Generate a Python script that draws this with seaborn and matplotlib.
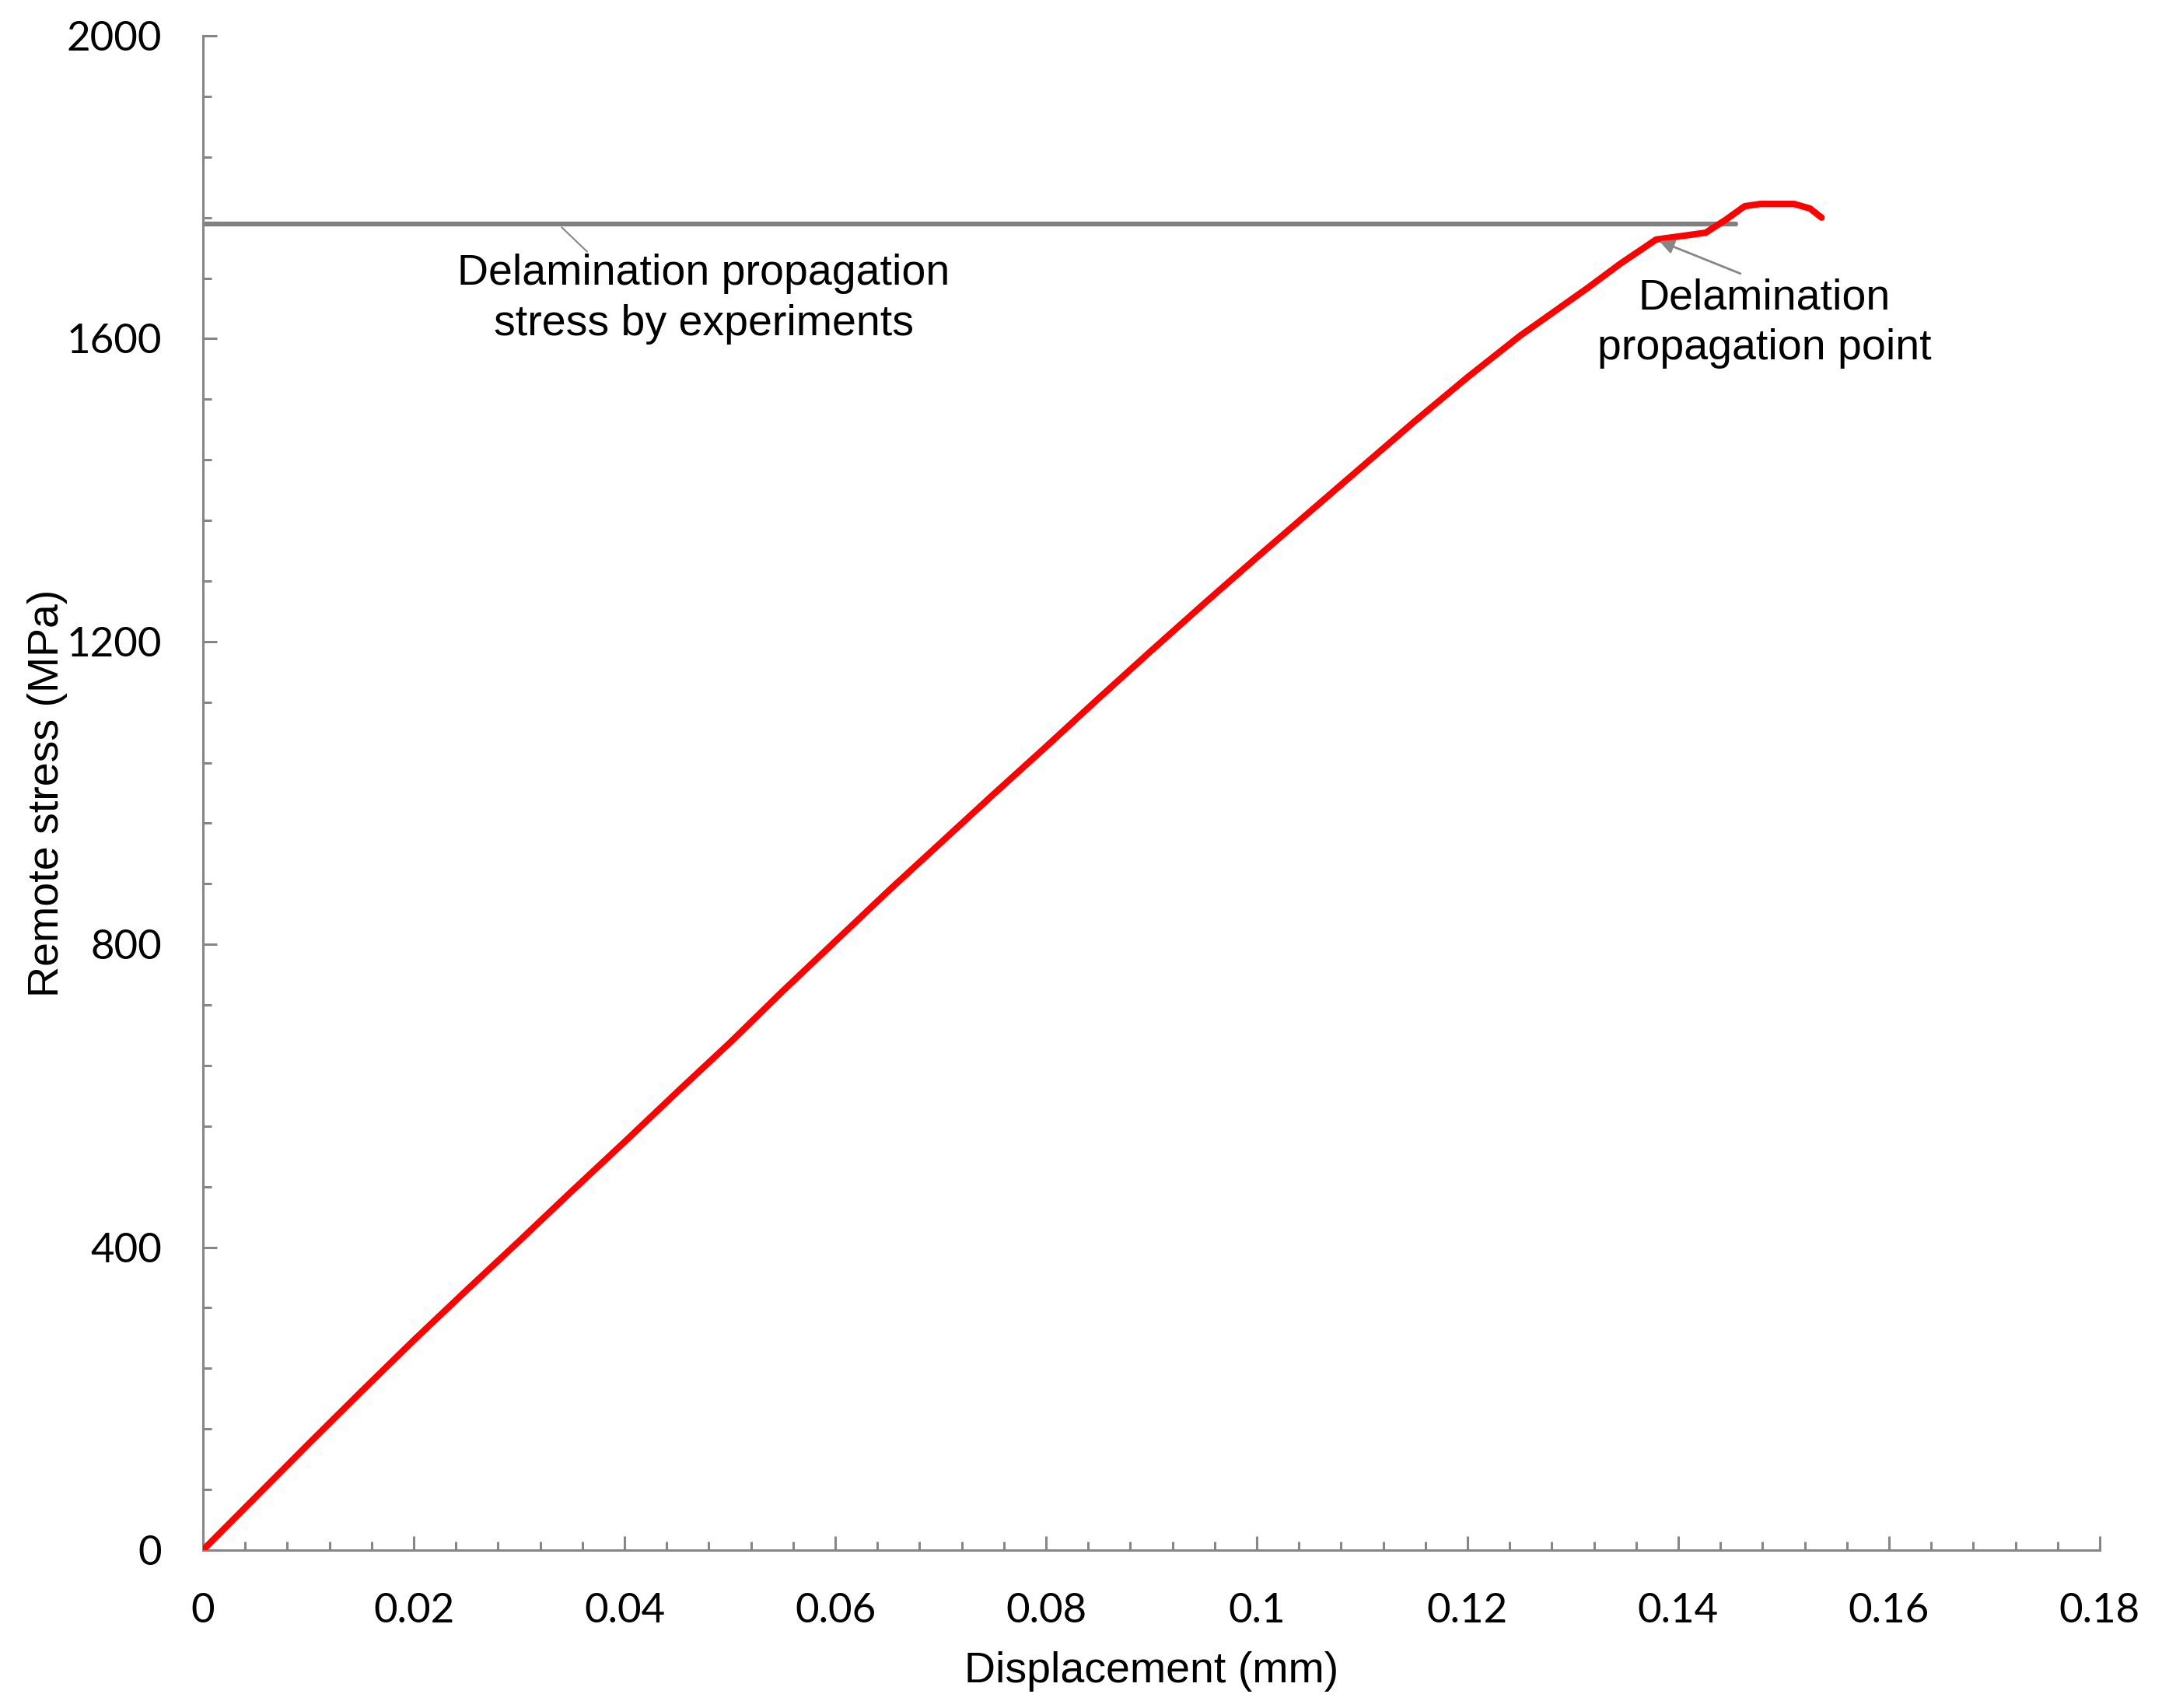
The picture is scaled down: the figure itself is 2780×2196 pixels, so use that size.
import matplotlib
matplotlib.use("Agg")
import matplotlib.pyplot as plt
from matplotlib.ticker import MultipleLocator, FuncFormatter
import numpy as np
import pandas as pd
import seaborn as sns

# data
displacement = [0, 0.005, 0.01, 0.015, 0.02, 0.025, 0.03, 0.035, 0.04, 0.045,
                0.05, 0.055, 0.06, 0.065, 0.07, 0.075, 0.08, 0.085, 0.09,
                0.095, 0.10, 0.105, 0.11, 0.115, 0.12, 0.125, 0.1313, 0.1345,
                0.1379, 0.1400, 0.1426, 0.1445, 0.1463, 0.1478, 0.1510,
                0.1525, 0.1536]
stress = [0, 70, 140, 209, 277, 343, 408, 474, 539, 605,
          670, 738, 804, 870, 934, 998, 1061, 1125, 1188,
          1250, 1311, 1371, 1431, 1491, 1549, 1604, 1666, 1699,
          1731, 1735, 1740, 1757, 1775, 1778, 1778,
          1772, 1760]

exp_disp = [0, 0.1455]
exp_stress = [1752, 1752]

xticks = [0, 0.02, 0.04, 0.06, 0.08, 0.1, 0.12, 0.14, 0.16, 0.18]
yticks = [0, 400, 800, 1200, 1600, 2000]

GREY = "#868686"
ARIAL = ["Liberation Sans", "DejaVu Sans"]

sns.set_theme(style="white")
plt.rcParams["font.family"] = ARIAL
plt.rcParams["text.color"] = "black"
plt.rcParams["axes.labelcolor"] = "black"

fig = plt.figure(figsize=(27.8, 21.96), dpi=100)
ax = fig.add_axes([0.0939, 0.0925, 0.9712 - 0.0939, 0.979 - 0.0925])

df = pd.DataFrame({"x": displacement, "y": stress})
ax.plot(exp_disp, exp_stress, color="#808080", lw=4.5, solid_capstyle="round", zorder=2)
sns.lineplot(data=df, x="x", y="y", ax=ax, color="#ff0000", lw=6,
             estimator=None, sort=False, zorder=3)
ax.lines[-1].set_solid_capstyle("round")
ax.lines[-1].set_solid_joinstyle("round")

ax.set_xlim(0, 0.18)
ax.set_ylim(0, 2000)
ax.set_xticks(xticks)
ax.set_yticks(yticks)
ax.xaxis.set_minor_locator(MultipleLocator(0.004))
ax.yaxis.set_minor_locator(MultipleLocator(80))
ax.xaxis.set_major_formatter(FuncFormatter(lambda v, p: f"{v:g}"))
ax.yaxis.set_major_formatter(FuncFormatter(lambda v, p: f"{v:g}"))

sns.despine(ax=ax)
for s in ["left", "bottom"]:
    ax.spines[s].set_color(GREY)
    ax.spines[s].set_linewidth(2.2)

ax.tick_params(which="both", direction="in", color=GREY, width=2.2,
               left=True, bottom=True)
ax.tick_params(which="major", length=13)
ax.tick_params(which="minor", length=8)
ax.tick_params(axis="x", which="major", pad=40)
ax.tick_params(axis="y", which="major", pad=38)
for lab in ax.get_xticklabels() + ax.get_yticklabels():
    lab.set_fontfamily(["Lato", "DejaVu Sans"])
    lab.set_fontsize(38)
    lab.set_color("black")

ax.set_xlabel("Displacement (mm)", fontsize=40, labelpad=20, color="black",
              family=ARIAL)
ax.set_ylabel("Remote stress (MPa)", fontsize=40, labelpad=-1, color="black",
              family=ARIAL)

# annotations
ax.text(0.0475, 1652, "Delamination propagation\nstress by experiments",
        ha="center", va="center", fontsize=40, linespacing=1.32,
        color="black", family=ARIAL)
ax.annotate("", xy=(0.0339, 1749), xytext=(0.0366, 1713),
            arrowprops=dict(arrowstyle="-", color=GREY, lw=1.5))

ax.text(0.1482, 1620, "Delamination\npropagation point",
        ha="center", va="center", fontsize=40, linespacing=1.32,
        color="black", family=ARIAL)
ax.annotate("", xy=(0.1382, 1729), xytext=(0.1459, 1686),
            arrowprops=dict(arrowstyle="-|>", color=GREY, lw=2,
                            mutation_scale=28, shrinkA=0, shrinkB=0))

fig.savefig("out.png", dpi=100)
